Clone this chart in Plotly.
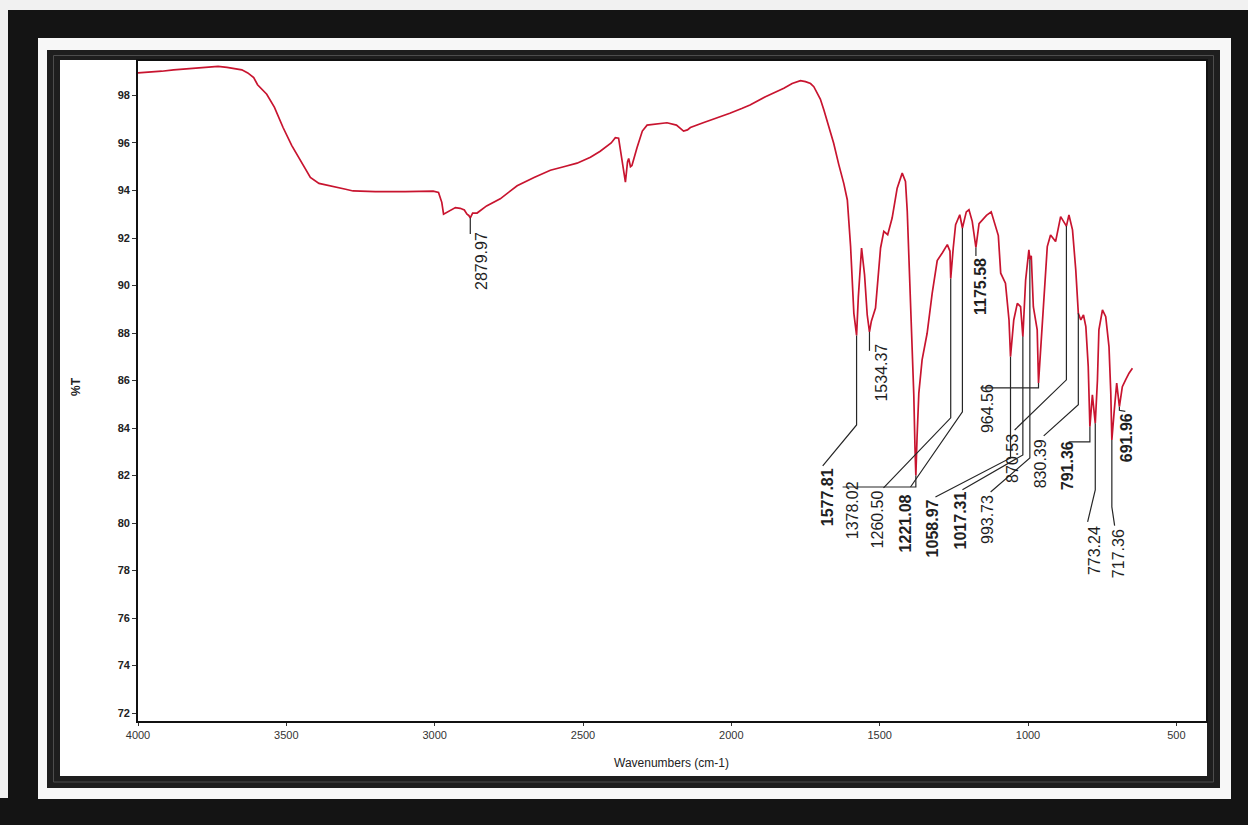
import numpy as np
import plotly.graph_objects as go

# ---------------- spectrum (wavenumber in cm-1, %T) ----------------
wavenumber = [
    4000, 3960, 3920, 3880, 3840, 3800, 3760, 3730, 3700, 3670, 3650, 3630, 3610, 3597,
    3566, 3540, 3511, 3482, 3453, 3419, 3390, 3342, 3300, 3275, 3200, 3100, 3005, 2987,
    2976, 2970, 2955, 2947, 2930, 2914, 2900, 2891, 2885, 2879.97, 2872, 2857, 2825, 2779,
    2722, 2665, 2610, 2565, 2520, 2475, 2442, 2405, 2391, 2380, 2372, 2364, 2357, 2350,
    2346, 2340, 2335, 2318, 2300, 2284, 2255, 2217, 2185, 2161, 2148, 2138, 2095, 2048,
    2005, 1965, 1937, 1885, 1823, 1795, 1767, 1750, 1733, 1722, 1700, 1688, 1672, 1655,
    1638, 1621, 1609, 1598, 1587, 1577.81, 1572, 1567, 1561, 1551, 1542, 1534.37, 1528,
    1514, 1497, 1486, 1473, 1458, 1441, 1424, 1413, 1407, 1396, 1385, 1381, 1378.02,
    1374, 1368, 1357, 1340, 1323, 1306, 1289, 1272, 1263, 1260.5, 1252, 1244, 1230,
    1221.08, 1208, 1199, 1188, 1175.58, 1165, 1157, 1140, 1124, 1110, 1100, 1092, 1076,
    1064, 1058.97, 1048, 1036, 1025, 1017.31, 1008, 997, 993.73, 989, 982, 969, 964.56,
    955, 946, 935, 924, 907, 890, 880, 870.53, 862, 850, 839, 830.39, 822, 813, 805, 797,
    791.36, 783, 773.24, 766, 761, 749, 738, 727, 721, 717.36, 710, 701, 691.96, 682, 671,
    659.5, 648,
]
transmittance = [
    98.95, 98.98, 99.02, 99.08, 99.12, 99.15, 99.20, 99.22, 99.18, 99.12, 99.08, 98.95, 98.75, 98.45,
    98.05, 97.50, 96.65, 95.90, 95.25, 94.55, 94.30, 94.15, 94.05, 93.98, 93.95, 93.95, 93.97, 93.92,
    93.50, 93.00, 93.10, 93.15, 93.28, 93.25, 93.18, 93.00, 92.95, 92.85, 93.05, 93.05, 93.35, 93.65,
    94.20, 94.55, 94.85, 95.00, 95.15, 95.40, 95.65, 96.00, 96.22, 96.20, 95.50, 94.80, 94.35, 95.20,
    95.35, 95.00, 95.05, 95.80, 96.50, 96.75, 96.80, 96.85, 96.75, 96.50, 96.55, 96.65, 96.85, 97.05,
    97.25, 97.45, 97.60, 97.95, 98.30, 98.50, 98.62, 98.58, 98.50, 98.37, 97.85, 97.39, 96.70, 95.99,
    95.10, 94.30, 93.60, 91.64, 88.83, 87.90, 89.50, 90.31, 91.58, 90.46, 88.77, 88.05, 88.50,
    89.05, 91.58, 92.28, 92.14, 92.84, 94.10, 94.73, 94.38, 93.12, 89.62, 85.41, 83.20, 82.00,
    83.60, 85.47, 86.87, 87.99, 89.67, 91.05, 91.37, 91.72, 91.44, 90.30, 91.58, 92.56, 92.98,
    92.42, 93.10, 93.19, 92.70, 91.60, 92.60, 92.70, 92.95, 93.10, 92.50, 92.10, 90.52, 90.10,
    88.55, 87.00, 88.55, 89.25, 89.11, 87.85, 90.23, 91.50, 91.10, 91.25, 89.11, 88.13, 85.90,
    87.80, 89.53, 91.64, 92.13, 91.85, 92.90, 92.70, 92.50, 92.97, 92.34, 90.66, 88.83, 88.55, 88.76, 88.27, 86.60,
    84.06, 85.40, 84.20, 86.00, 88.13, 88.97, 88.69, 87.43, 85.50, 83.50, 84.63, 85.89, 84.90, 85.74, 86.03,
    86.31, 86.52,
]

# ---------------- peak picks ----------------
peak_positions = [2879.97, 1577.81, 1534.37, 1378.02, 1260.50, 1221.08, 1175.58, 1058.97,
                  1017.31, 993.73, 964.56, 870.53, 830.39, 791.36, 773.24, 717.36, 691.96]

x_ticks = [4000, 3500, 3000, 2500, 2000, 1500, 1000, 500]
y_ticks = list(range(72, 100, 2))

# leader geometry per pick: knee %T, leader end (cm-1, %T), text centre cm-1, text top %T, bold
label_layout = {
    2879.97: (92.17, 2879.97, 92.17, 2840, 92.30, False),
    1577.81: (84.13, 1692, 82.41, 1677, 82.36, True),
    1534.37: (87.25, 1534.37, 87.25, 1497, 87.58, False),
    1378.02: (81.52, 1625, 81.52, 1592, 81.82, False),
    1260.50: (84.43, 1487, 81.48, 1507, 81.40, False),
    1221.08: (84.68, 1396, 81.52, 1413, 81.27, True),
    1175.58: (91.24, 1175.58, 91.24, 1160, 91.20, True),
    1058.97: (82.74, 1312, 81.10, 1322, 81.06, True),
    1017.31: (82.87, 1221, 81.40, 1227, 81.36, True),
    993.73: (82.74, 1126, 81.31, 1136, 81.23, False),
    964.56: (85.69, 1160, 85.69, 1136, 85.90, False),
    870.53: (86.03, 1045, 83.92, 1052, 83.80, False),
    830.39: (84.98, 947, 83.67, 957, 83.58, False),
    791.36: (83.42, 863, 83.42, 866, 83.50, True),
    773.24: (81.40, 799, 80.05, 778, 79.93, False),
    717.36: (80.68, 708, 79.89, 694, 79.80, False),
    691.96: (84.75, 672, 84.70, 667, 84.68, True),
}

# ---------------- page geometry ----------------
W, H = 1248, 825
ML, MR, MT, MB = 138, 42, 61, 104
PW, PH = W - ML - MR, H - MT - MB


def px(x):
    return (x - ML) / PW


def py(y):
    return 1 - (y - MT) / PH


def rect(x0, y0, x1, y1, fill, line=None):
    return dict(type="rect", xref="paper", yref="paper", layer="below",
                x0=px(x0), x1=px(x1), y0=py(y1), y1=py(y0),
                fillcolor=fill, line=line or dict(width=0))


shapes = [
    rect(8, 10, W, H, "#141414"),
    rect(0, 798, 8, H, "#141414"),
    rect(38, 38, 1231, 799, "#f7f7f7"),
    rect(47, 50, 1220, 788, "#1e1e1e"),
    dict(type="rect", xref="paper", yref="paper", layer="below",
         x0=px(53.5), x1=px(1213.5), y0=py(782), y1=py(55.5),
         fillcolor="rgba(0,0,0,0)", line=dict(color="#4d4d4d", width=1)),
    rect(60, 60, 1207, 776, "#ffffff"),
]

fig = go.Figure()

# leader lines from each pick down to its label
lx, ly = [], []
wn_asc = np.array(wavenumber)[::-1]
tr_asc = np.array(transmittance)[::-1]
for p in peak_positions:
    knee, ew, et, _, _, _ = label_layout[p]
    t_peak = float(np.interp(p, wn_asc, tr_asc))
    lx += [p, p, ew, None]
    ly += [t_peak, knee, et, None]

fig.add_trace(go.Scatter(x=wavenumber, y=transmittance, mode="lines",
                         line=dict(color="#c8142f", width=1.7), hoverinfo="skip",
                         showlegend=False))
fig.add_trace(go.Scatter(x=lx, y=ly, mode="lines",
                         line=dict(color="#262626", width=1.2), hoverinfo="skip",
                         showlegend=False))

annotations = []
for p in peak_positions:
    _, _, _, tw, ttop, bold = label_layout[p]
    txt = f"{p:.2f}"
    annotations.append(dict(
        x=tw, y=ttop, xref="x", yref="y", text=f"<b>{txt}</b>" if bold else txt,
        showarrow=False, textangle=-90, xanchor="center", yanchor="top",
        font=dict(family="Liberation Sans, Arial, sans-serif", size=16, color="#1f1f1f"),
        borderpad=0,
    ))

annotations.append(dict(
    x=px(671), y=py(763), xref="paper", yref="paper", text="Wavenumbers (cm-1)",
    showarrow=False, xanchor="center", yanchor="middle",
    font=dict(family="Liberation Sans, Arial, sans-serif", size=12, color="#222222"),
))
annotations.append(dict(
    x=px(76), y=py(387), xref="paper", yref="paper", text="<b>%T</b>",
    showarrow=False, textangle=-90, xanchor="center", yanchor="middle",
    font=dict(family="Liberation Sans, Arial, sans-serif", size=12, color="#222222"),
))

fig.update_layout(
    width=W, height=H,
    margin=dict(l=ML, r=MR, t=MT, b=MB, pad=0),
    paper_bgcolor="#f1f1f1",
    plot_bgcolor="rgba(0,0,0,0)",
    shapes=shapes,
    annotations=annotations,
    showlegend=False,
)
fig.update_xaxes(
    range=[4000, 400], tickvals=x_ticks, ticktext=[str(v) for v in x_ticks],
    showgrid=False, zeroline=False, showline=True, linecolor="#111111", linewidth=1.6,
    mirror=True, ticks="outside", ticklen=3, tickcolor="#333333",
    tickfont=dict(family="Liberation Sans, Arial, sans-serif", size=11, color="#333333"),
)
fig.update_yaxes(
    range=[71.67, 99.45], tickvals=y_ticks, ticktext=[str(v) for v in y_ticks],
    showgrid=False, zeroline=False, showline=True, linecolor="#111111", linewidth=1.6,
    mirror=True, ticks="outside", ticklen=4, tickcolor="#333333",
    tickfont=dict(family="Liberation Sans, Arial, sans-serif", size=11, color="#222222", weight="bold"),
)

fig.write_html("out.html")
